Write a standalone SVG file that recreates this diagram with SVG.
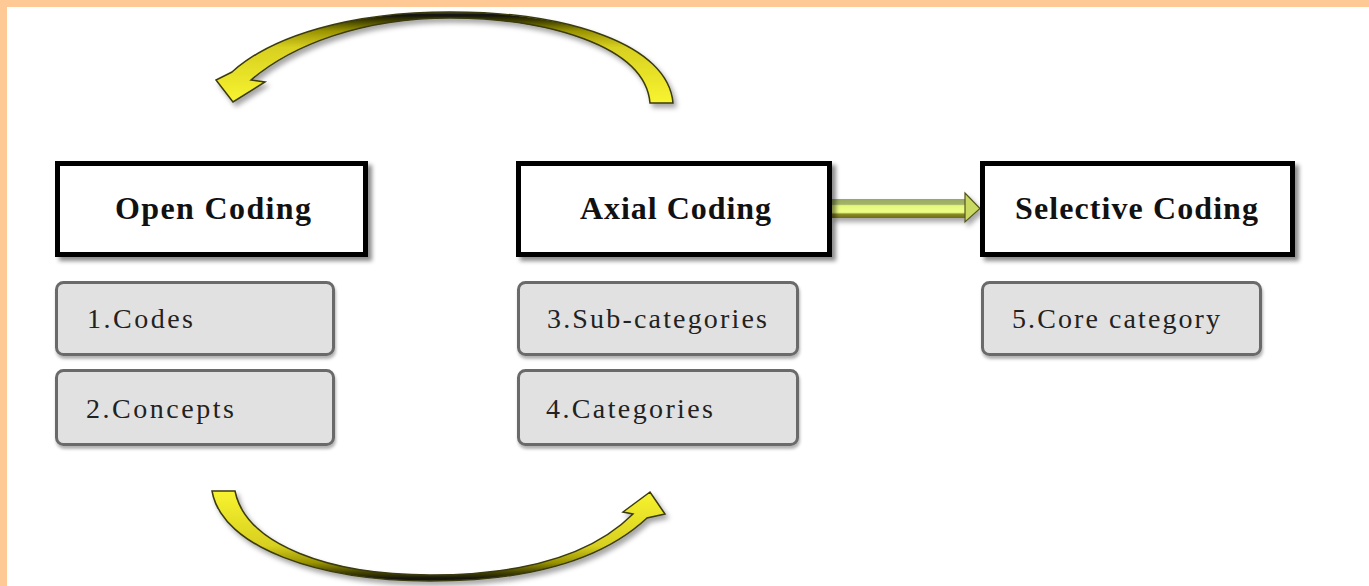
<svg xmlns="http://www.w3.org/2000/svg" width="1369" height="586" viewBox="0 0 1369 586">
  <style>
    .head { fill: #ffffff; stroke: #000000; stroke-width: 5; }
    .headText { font-family: "Liberation Serif", "Times New Roman", serif; font-weight: bold; font-size: 32px; fill: #111111; }
    .item { fill: #e1e1e1; stroke: #6a6a6a; stroke-width: 3; }
    .itemText { font-family: "Liberation Serif", "Times New Roman", serif; font-size: 28px; fill: #222222; }
    .curve { stroke: #3a3a10; stroke-width: 1.5; stroke-linejoin: miter; }
  </style>
  <defs>
    <filter id="boxShadow" x="-10%" y="-20%" width="125%" height="145%">
      <feDropShadow dx="4" dy="4" stdDeviation="2" flood-color="#000000" flood-opacity="0.45"/>
    </filter>
    <filter id="itemShadow" x="-10%" y="-20%" width="125%" height="145%">
      <feDropShadow dx="1" dy="3" stdDeviation="1.5" flood-color="#000000" flood-opacity="0.3"/>
    </filter>
    <filter id="arcShadow" x="-10%" y="-20%" width="125%" height="150%">
      <feDropShadow dx="3" dy="4" stdDeviation="2.5" flood-color="#000000" flood-opacity="0.35"/>
    </filter>
    <linearGradient id="topArcFill" gradientUnits="userSpaceOnUse" x1="0" y1="11" x2="0" y2="102">
      <stop offset="0" stop-color="#6a6a6a"/>
      <stop offset="0.04" stop-color="#111111"/>
      <stop offset="0.1" stop-color="#3a3a00"/>
      <stop offset="0.22" stop-color="#9a9400"/>
      <stop offset="0.4" stop-color="#d8d020"/>
      <stop offset="1" stop-color="#f8f430"/>
    </linearGradient>
    <linearGradient id="bottomArcFill" gradientUnits="userSpaceOnUse" x1="0" y1="583" x2="0" y2="490">
      <stop offset="0" stop-color="#6a6a6a"/>
      <stop offset="0.04" stop-color="#111111"/>
      <stop offset="0.1" stop-color="#3a3a00"/>
      <stop offset="0.22" stop-color="#9a9400"/>
      <stop offset="0.4" stop-color="#d8d020"/>
      <stop offset="1" stop-color="#f8f430"/>
    </linearGradient>
    <linearGradient id="shaftFill" gradientUnits="userSpaceOnUse" x1="0" y1="199" x2="0" y2="218">
      <stop offset="0" stop-color="#98a860"/>
      <stop offset="0.28" stop-color="#a3b46a"/>
      <stop offset="0.35" stop-color="#e6f77c"/>
      <stop offset="0.7" stop-color="#eeff86"/>
      <stop offset="0.8" stop-color="#8a8a28"/>
      <stop offset="1" stop-color="#6d6d18"/>
    </linearGradient>
  </defs>

  <!-- page background with coloured top and left rule -->
  <rect x="0" y="0" width="1369" height="586" fill="#ffffff"/>
  <rect x="0" y="0" width="1369" height="7" fill="#ffc996"/>
  <rect x="0" y="0" width="7" height="586" fill="#ffc996"/>

  <g id="connectors">
    <!-- upper curved arrow: Axial Coding back to Open Coding -->
    <path class="curve" fill="url(#topArcFill)" filter="url(#arcShadow)"
      d="M 673 103 C 668 45, 570 12, 450 12 C 350 12, 272 36, 232 72 L 216 80 L 233 102 L 265 82 L 251 80 C 292 45, 362 18, 450 18 C 545 18, 645 45, 650 103 Z"/>
    <!-- lower curved arrow: Open Coding on to Axial Coding -->
    <path class="curve" fill="url(#bottomArcFill)" filter="url(#arcShadow)"
      d="M 212 491 C 222 548, 320 581, 430 581 C 530 581, 602 560, 647 518 L 665 514 L 650 492 L 623 512 L 633 514 C 592 555, 522 575, 430 575 C 330 575, 246 545, 235 491 Z"/>
    <!-- straight arrow: Axial Coding to Selective Coding -->
    <g filter="url(#arcShadow)">
      <rect x="831" y="199" width="136" height="19" fill="url(#shaftFill)"/>
      <path d="M 965 193 L 980 208.5 L 965 222 Z" fill="#c8d860" stroke="#555522" stroke-width="1.2"/>
    </g>
  </g>

  <g id="open-coding">
    <rect class="head" x="57.5" y="163.5" width="308" height="91" filter="url(#boxShadow)"/>
    <text class="headText" x="213" y="219" text-anchor="middle" textLength="196" lengthAdjust="spacing">Open Coding</text>
  </g>
  <g id="axial-coding">
    <rect class="head" x="518.5" y="163.5" width="311" height="91" filter="url(#boxShadow)"/>
    <text class="headText" x="675.5" y="219" text-anchor="middle" textLength="191" lengthAdjust="spacing">Axial Coding</text>
  </g>
  <g id="selective-coding">
    <rect class="head" x="982.5" y="163.5" width="310" height="91" filter="url(#boxShadow)"/>
    <text class="headText" x="1136.5" y="219" text-anchor="middle" textLength="243" lengthAdjust="spacing">Selective Coding</text>
  </g>

  <g id="codes">
    <rect class="item" x="56.5" y="282.5" width="277" height="72" rx="7" filter="url(#itemShadow)"/>
    <text class="itemText" x="87" y="328" textLength="106" lengthAdjust="spacing">1.Codes</text>
  </g>
  <g id="concepts">
    <rect class="item" x="56.5" y="370.5" width="277" height="74" rx="7" filter="url(#itemShadow)"/>
    <text class="itemText" x="86" y="418" textLength="148" lengthAdjust="spacing">2.Concepts</text>
  </g>
  <g id="sub-categories">
    <rect class="item" x="518.5" y="282.5" width="279" height="72" rx="7" filter="url(#itemShadow)"/>
    <text class="itemText" x="547" y="328" textLength="220" lengthAdjust="spacing">3.Sub-categories</text>
  </g>
  <g id="categories">
    <rect class="item" x="518.5" y="370.5" width="279" height="74" rx="7" filter="url(#itemShadow)"/>
    <text class="itemText" x="546" y="418" textLength="167" lengthAdjust="spacing">4.Categories</text>
  </g>
  <g id="core-category">
    <rect class="item" x="982.5" y="282.5" width="278" height="72" rx="7" filter="url(#itemShadow)"/>
    <text class="itemText" x="1012" y="328" textLength="208" lengthAdjust="spacing">5.Core category</text>
  </g>
</svg>
